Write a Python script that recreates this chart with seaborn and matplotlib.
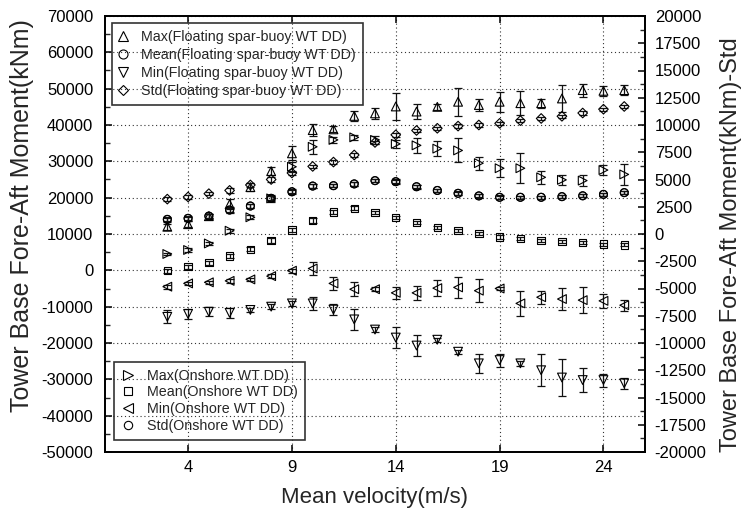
import matplotlib
matplotlib.use('Agg')
import matplotlib.pyplot as plt
import seaborn as sns
from matplotlib.lines import Line2D
from matplotlib.ticker import MultipleLocator, FixedLocator

# ---------------- data ----------------
wind = [3, 4, 5, 6, 7, 8, 9, 10, 11, 12, 13, 14, 15, 16, 17, 18, 19, 20, 21, 22, 23, 24, 25]

float_max = [12000, 12700, 14900, 18200, 22900, 27300, 32200, 38600, 38800, 42500, 43200, 45100,
             43700, 45000, 46400, 45500, 46400, 46000, 46000, 47300, 49600, 49400, 49600]
float_max_err = [800, 800, 600, 1400, 1100, 1100, 1900, 1600, 800, 1300, 1500, 3800,
                 2000, 800, 3800, 1550, 2700, 3300, 1250, 3600, 1800, 1300, 1400]

float_mean = [14000, 14300, 14900, 16600, 17700, 19800, 21600, 23200, 23300, 23800, 24700, 24400,
              23000, 22000, 21200, 20500, 20100, 20100, 20100, 20300, 20500, 20900, 21400]
float_mean_err = [700, 600, 700, 800, 600, 900, 700, 500, 500, 600, 500, 600,
                  500, 500, 500, 400, 500, 400, 400, 500, 400, 500, 500]

float_min = [-12800, -12000, -11400, -11700, -10900, -10000, -9100, -9100, -10800, -13500, -16300, -18500,
             -20700, -19100, -22400, -25600, -24700, -25600, -27500, -29500, -30200, -30200, -31100]
float_min_err = [1800, 1400, 1300, 1400, 600, 600, 600, 1800, 1600, 2800, 600, 2800,
                 3000, 600, 600, 2600, 1800, 600, 4400, 5000, 3400, 1800, 1600]

float_std = [3200, 3400, 3700, 4000, 4500, 5000, 5600, 6200, 6600, 7250, 8400, 9100,
             9500, 9700, 9900, 10000, 10150, 10400, 10600, 10800, 11100, 11450, 11700]
float_std_err = [150, 150, 150, 200, 150, 200, 150, 150, 150, 200, 150, 200,
                 150, 150, 150, 150, 150, 150, 150, 150, 150, 150, 150]

on_max = [4500, 5600, 7400, 10900, 14600, 19800, 28500, 34000, 35900, 36600, 35900, 34800,
          34400, 33500, 33000, 29500, 28100, 28100, 25600, 24900, 24700, 27600, 26400]
on_max_err = [400, 500, 500, 600, 600, 700, 1400, 2000, 800, 600, 1100, 1100,
              2100, 2000, 3300, 1800, 2500, 4100, 1800, 1400, 1500, 1400, 3000]

on_mean = [-100, 1000, 2100, 3900, 5800, 8300, 11100, 13800, 16100, 17100, 15900, 14500,
           13100, 11800, 10900, 10200, 9200, 8800, 8300, 7900, 7600, 7200, 7000]
on_mean_err = [500, 500, 500, 600, 600, 700, 600, 700, 600, 500, 500, 400,
               400, 400, 400, 400, 500, 400, 400, 400, 400, 400, 400]

on_min = [-4500, -3600, -3300, -2900, -2500, -1600, -100, 500, -3600, -5200, -5200, -6200,
          -6200, -4900, -4700, -5600, -5000, -9100, -7400, -7900, -8200, -8400, -9600]
on_min_err = [500, 500, 500, 500, 500, 500, 600, 1800, 1900, 1900, 500, 1700,
              2000, 2200, 2800, 3200, 550, 3400, 1800, 3100, 3600, 1950, 1550]

on_std = [1350, 1440, 1650, 2200, 2570, 3280, 3880, 4400, 4430, 4590, 4890, 4800,
          4340, 3990, 3730, 3490, 3370, 3370, 3370, 3420, 3510, 3640, 3790]
on_std_err = [150, 150, 150, 150, 150, 200, 150, 150, 150, 150, 150, 150,
              150, 150, 150, 150, 150, 150, 150, 150, 150, 150, 150]

x_ticks = [4, 9, 14, 19, 24]

labels_float = ['Max(Floating spar-buoy WT DD)', 'Mean(Floating spar-buoy WT DD)',
                'Min(Floating spar-buoy WT DD)', 'Std(Floating spar-buoy WT DD)']
labels_on = ['Max(Onshore WT DD)', 'Mean(Onshore WT DD)', 'Min(Onshore WT DD)', 'Std(Onshore WT DD)']

# ---------------- style ----------------
sns.set_theme(style='ticks')
plt.rcParams['font.family'] = ['Liberation Sans', 'DejaVu Sans']
plt.rcParams['axes.unicode_minus'] = False

W, H = 746, 513
fig = plt.figure(figsize=(W / 100, H / 100), dpi=100)
ax = fig.add_axes([105 / W, 61 / H, 540 / W, 436 / H])
ax2 = ax.twinx()


def draw(axis, y, err, marker, size):
    axis.errorbar(wind, y, yerr=err, fmt='none', ecolor='#111111', elinewidth=0.9,
                  capsize=3.2, capthick=0.9, zorder=2)
    sns.scatterplot(x=wind, y=y, marker=marker, s=size, facecolor='none', edgecolor='black',
                    linewidth=0.8, ax=axis, zorder=3, legend=False)


draw(ax, float_max, float_max_err, '^', 40)
draw(ax, float_mean, float_mean_err, 'o', 32)
draw(ax, float_min, float_min_err, 'v', 40)
draw(ax, on_max, on_max_err, '>', 40)
draw(ax, on_mean, on_mean_err, 's', 28)
draw(ax, on_min, on_min_err, '<', 40)
draw(ax2, float_std, float_std_err, 'D', 24)
draw(ax2, on_std, on_std_err, 'o', 32)

ax.set_xlim(0, 26)
ax.set_ylim(-50000, 70000)
ax2.set_ylim(-20000, 20000)

ax.xaxis.set_major_locator(FixedLocator(x_ticks))
ax.yaxis.set_major_locator(MultipleLocator(10000))
ax.yaxis.set_minor_locator(MultipleLocator(5000))
ax2.yaxis.set_major_locator(MultipleLocator(2500))
ax2.yaxis.set_minor_locator(MultipleLocator(1250))

ax.set_xlabel('')
ax.set_ylabel('')
ax2.set_ylabel('')

ax.grid(True, which='major', linestyle=(0, (1, 2.5)), color='#333333', linewidth=0.8)
ax2.grid(False)

for a in (ax, ax2):
    for s in a.spines.values():
        s.set_linewidth(1.3)
        s.set_color('black')

ax.tick_params(axis='x', which='major', direction='in', length=5, width=1.1, top=True,
               bottom=True, labelsize=12, pad=6, colors='black')
ax.tick_params(axis='y', which='major', direction='in', length=5, width=1.1, left=True,
               right=False, labelsize=12, pad=8.5, colors='black')
ax.tick_params(axis='y', which='minor', direction='in', length=3.5, width=1.0, left=True,
               right=False)
ax2.tick_params(axis='y', which='major', direction='in', length=5, width=1.1, right=True,
                left=False, labelsize=12, pad=7, colors='black')
ax2.tick_params(axis='y', which='minor', direction='in', length=3.5, width=1.0, right=True,
                left=False)

fig.text(374.5 / W, 1 - 497 / H, 'Mean velocity(m/s)', ha='center', va='center', fontsize=16)
fig.text(22 / W, 1 - 216 / H, 'Tower Base Fore-Aft Moment(kNm)', ha='center', va='center',
         rotation=90, fontsize=18)
fig.text(731 / W, 1 - 245 / H, 'Tower Base Fore-Aft Moment(kNm)-Std', ha='center', va='center',
         rotation=90, fontsize=17)


def handle(marker, ms, label):
    return Line2D([], [], marker=marker, linestyle='none', markerfacecolor='none',
                  markeredgecolor='black', markersize=ms, markeredgewidth=0.8, label=label)


h1 = [handle('^', 7.5, labels_float[0]), handle('o', 6.5, labels_float[1]),
      handle('v', 7.5, labels_float[2]), handle('D', 5.5, labels_float[3])]
h2 = [handle('>', 7, labels_on[0]), handle('s', 6, labels_on[1]),
      handle('<', 7, labels_on[2]), handle('o', 6, labels_on[3])]

leg1 = ax2.legend(handles=h1, loc='upper left', bbox_to_anchor=(112 / W, 1 - 23 / H),
                  bbox_transform=fig.transFigure, frameon=True, facecolor='none', framealpha=1,
                  edgecolor='#333333', fancybox=False, fontsize=10.3, borderpad=0.5,
                  labelspacing=0.28, handlelength=0.6, handletextpad=0.9, borderaxespad=0)
leg1.get_frame().set_linewidth(1.2)
ax2.add_artist(leg1)
leg2 = ax2.legend(handles=h2, loc='upper left', bbox_to_anchor=(114 / W, 1 - 361.7 / H),
                  bbox_transform=fig.transFigure, frameon=True, facecolor='none', framealpha=1,
                  edgecolor='#333333', fancybox=False, fontsize=10.3, borderpad=0.5,
                  labelspacing=0.18, handlelength=0.9, handletextpad=0.9, borderaxespad=0)
leg2.get_frame().set_linewidth(1.2)

fig.savefig('out.png', dpi=100)
